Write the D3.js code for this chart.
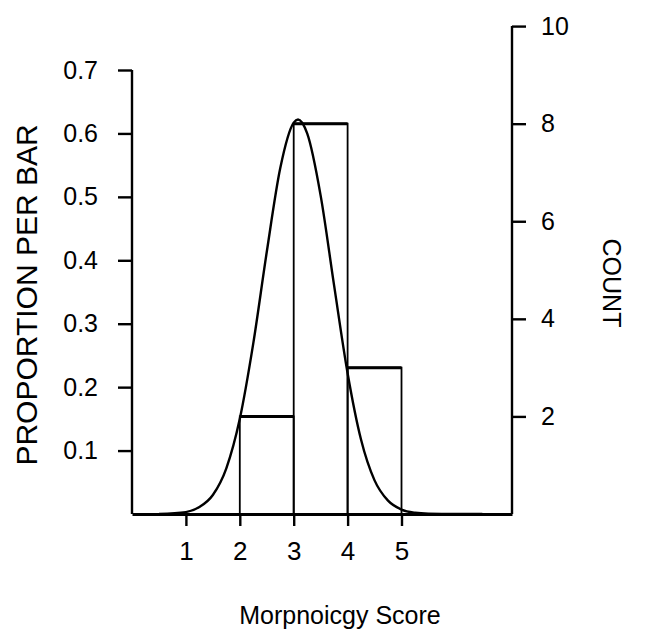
<!DOCTYPE html>
<html>
<head>
<meta charset="utf-8">
<script src="https://cdn.jsdelivr.net/npm/d3@7"></script>
<style>
  html, body { margin: 0; padding: 0; background: #fff; }
  svg { display: block; }
  text { font-family: "Liberation Sans", Arial, Helvetica, sans-serif; fill: #000; }
</style>
</head>
<body>
<svg id="chart" width="650" height="632"></svg>
<script>
// ---- data ----
const binStart = [2, 3, 4];
const binEnd   = [3, 4, 5];
const counts   = [2, 8, 3];
const totalN   = 13;

// normal curve overlay (proportion per bar)
const curveX = [0.5, 1, 1.25, 1.5, 1.75, 2, 2.25, 2.5, 2.75, 3, 3.08, 3.25, 3.5, 3.75, 4, 4.25, 4.5, 4.75, 5, 5.25, 5.5, 6, 6.5];
const curveY = [0, 0.003, 0.011, 0.030, 0.072, 0.150, 0.269, 0.413, 0.545, 0.617, 0.622, 0.600, 0.502, 0.360, 0.222, 0.117, 0.053, 0.021, 0.007, 0.002, 0.0005, 0, 0];

const xTicks     = [1, 2, 3, 4, 5];
const propTicks  = [0.1, 0.2, 0.3, 0.4, 0.5, 0.6, 0.7];
const countTicks = [2, 4, 6, 8, 10];

const xTitle      = "Morpnoicgy Score";
const yLeftTitle  = "PROPORTION PER BAR";
const yRightTitle = "COUNT";

// ---- layout ----
const left = 132, right = 512, base = 514, propTop = 70;
const svg = d3.select("#chart");

const x = d3.scaleLinear().domain([0, 7.05]).range([left, right]);
const yProp = d3.scaleLinear().domain([0, 0.7]).range([base, propTop]);
const yCount = d3.scaleLinear().domain([0, 0.7 * totalN]).range([base, propTop]);

// bars (outline only)
const bars = svg.append("g");
bars.selectAll("rect")
  .data(counts)
  .join("rect")
  .attr("x", (d, i) => x(binStart[i]))
  .attr("width", (d, i) => x(binEnd[i]) - x(binStart[i]))
  .attr("y", d => yCount(d))
  .attr("height", d => base - yCount(d))
  .attr("fill", "none")
  .attr("stroke", "#000")
  .attr("stroke-width", 1.8);
// heavier bar tops, as in the reference
bars.selectAll("line")
  .data(counts)
  .join("line")
  .attr("x1", (d, i) => x(binStart[i]))
  .attr("x2", (d, i) => x(binEnd[i]))
  .attr("y1", d => yCount(d))
  .attr("y2", d => yCount(d))
  .attr("stroke", "#000")
  .attr("stroke-width", 3);

// normal curve
const pts = curveX.map((v, i) => [v, curveY[i]]);
svg.append("path")
  .datum(pts)
  .attr("d", d3.line().x(d => x(d[0])).y(d => yProp(d[1])).curve(d3.curveMonotoneX))
  .attr("fill", "none")
  .attr("stroke", "#000")
  .attr("stroke-width", 2.4);

// axes
function styleAxis(g, fs) {
  g.selectAll("path.domain").attr("stroke", "#000").attr("stroke-width", 2.4);
  g.selectAll(".tick line").attr("stroke", "#000").attr("stroke-width", 2.4);
  g.selectAll(".tick text").attr("font-size", fs).attr("font-family", "Liberation Sans, Arial, sans-serif").attr("fill", "#000");
}

const gx = svg.append("g").attr("transform", `translate(0,${base})`)
  .call(d3.axisBottom(x).tickValues(xTicks).tickSize(12).tickSizeOuter(0).tickPadding(16).tickFormat(d3.format("d")));
styleAxis(gx, 26);
gx.select("path.domain").attr("stroke-width", 3);

const gl = svg.append("g").attr("transform", `translate(${left},0)`)
  .call(d3.axisLeft(yProp).tickValues(propTicks).tickSize(14).tickSizeOuter(0).tickPadding(20).tickFormat(d3.format(".1f")));
styleAxis(gl, 25);
gl.select("path.domain").attr("d", `M0,${base}V${propTop}`);

const gr = svg.append("g").attr("transform", `translate(${right},0)`)
  .call(d3.axisRight(yCount).tickValues(countTicks).tickSize(14).tickSizeOuter(0).tickPadding(15).tickFormat(d3.format("d")));
styleAxis(gr, 25);
gr.select("path.domain").attr("d", `M0,${base}V${yCount(10)}`);

// titles
svg.append("text")
  .attr("x", 340).attr("y", 624)
  .attr("text-anchor", "middle")
  .attr("font-size", 25)
  .text(xTitle);

svg.append("text")
  .attr("transform", `translate(37,295) rotate(-90)`)
  .attr("text-anchor", "middle")
  .attr("font-size", 30)
  .text(yLeftTitle);

svg.append("text")
  .attr("transform", `translate(603,283) rotate(90)`)
  .attr("text-anchor", "middle")
  .attr("font-size", 25)
  .text(yRightTitle);
</script>
</body>
</html>
